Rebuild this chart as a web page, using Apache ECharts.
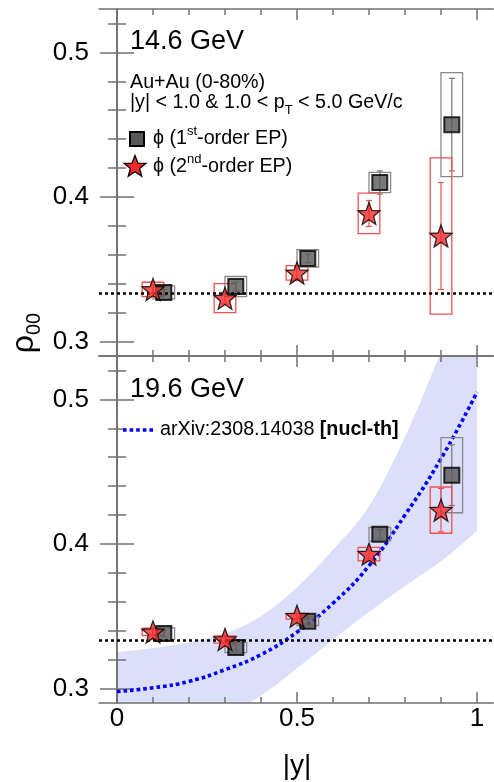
<!DOCTYPE html>
<html>
<head>
<meta charset="utf-8">
<script src="https://cdn.jsdelivr.net/npm/echarts@6/dist/echarts.min.js"></script>
<style>
html, body { margin: 0; padding: 0; background: #fff; }
#chart { width: 494px; height: 782px; }
</style>
</head>
<body>
<div id="chart"></div>
<script>
// |y| positions of the points (squares are shifted a bit to the right)
var xStar = [0.1, 0.3, 0.5, 0.7, 0.9];
var xSquare = [0.13, 0.33, 0.53, 0.73, 0.93];

// 14.6 GeV, phi (1st-order EP)
var sq146 = [0.334, 0.338, 0.3575, 0.410, 0.450];
var sq146Stat = [0.002, 0.003, 0.003, 0.008, 0.032];
var sq146Sys = [0.0045, 0.007, 0.006, 0.007, 0.036];
// 14.6 GeV, phi (2nd-order EP)
var st146 = [0.336, 0.330, 0.3475, 0.3886, 0.373];
var st146Stat = [0.003, 0.004, 0.004, 0.009, 0.037];
var st146Sys = [0.005, 0.010, 0.005, 0.014, 0.054];

// 19.6 GeV, phi (1st-order EP)
var sq196 = [0.338, 0.3284, 0.3466, 0.4068, 0.4476];
var sq196Stat = [0.002, 0.002, 0.002, 0.003, 0.021];
var sq196Sys = [0.004, 0.0035, 0.003, 0.0046, 0.026];
// 19.6 GeV, phi (2nd-order EP)
var st196 = [0.3392, 0.3339, 0.350, 0.393, 0.4234];
var st196Stat = [0.002, 0.002, 0.002, 0.003, 0.015];
var st196Sys = [0.0025, 0.0025, 0.002, 0.0047, 0.016];

// arXiv:2308.14038 model curve and its band
var curveX = [0, 0.1, 0.2, 0.3, 0.4, 0.5, 0.6, 0.7, 0.8, 0.9, 1.0];
var curveY = [0.298, 0.3005, 0.305, 0.313, 0.3235, 0.339, 0.359, 0.385, 0.42, 0.459, 0.505];
var bandX = [0, 0.1, 0.2, 0.3, 0.4, 0.5, 0.6, 0.7, 0.8, 0.9, 1.0];
var bandHi = [0.325, 0.328, 0.332, 0.338, 0.350, 0.370, 0.396, 0.426, 0.474, 0.533, 0.595];
var bandLo = [0.252, 0.261, 0.271, 0.282, 0.295, 0.314, 0.334, 0.353, 0.371, 0.388, 0.409];

var unpolarized = 1 / 3;

// ticks
var xMajor = [0, 0.5, 1];
var xMinor = [0.1, 0.2, 0.3, 0.4, 0.6, 0.7, 0.8, 0.9];
var yMajor = [0.3, 0.4, 0.5];
var yMinor = [0.32, 0.34, 0.36, 0.38, 0.42, 0.44, 0.46, 0.48, 0.52];

var FONT = 'Liberation Sans, Arial, Helvetica, sans-serif';
var FRAME = '#707070';
var BOX_HALF = 0.03;

function starPoints (cx, cy, R, rIn) {
  var pts = [];
  for (var k = 0; k < 10; k++) {
    var a = -Math.PI / 2 + k * Math.PI / 5;
    var r = k % 2 ? R * rIn : R;
    pts.push([cx + r * Math.cos(a), cy + r * Math.sin(a)]);
  }
  return pts;
}
var STAR = 'path://' + starPoints(10, 10, 10, 0.42).map(function (p, k) {
  return (k ? 'L' : 'M') + p[0].toFixed(2) + ' ' + p[1].toFixed(2);
}).join(' ') + ' Z';

// catmull-rom through screen points -> bezier path pieces
function smoothSegs (pts) {
  var d = '';
  for (var i = 0; i < pts.length - 1; i++) {
    var p0 = pts[i - 1] || pts[i], p1 = pts[i], p2 = pts[i + 1], p3 = pts[i + 2] || pts[i + 1];
    d += ' C' + (p1[0] + (p2[0] - p0[0]) / 6) + ' ' + (p1[1] + (p2[1] - p0[1]) / 6) + ' ' +
      (p2[0] - (p3[0] - p1[0]) / 6) + ' ' + (p2[1] - (p3[1] - p1[1]) / 6) + ' ' + p2[0] + ' ' + p2[1];
  }
  return d;
}

function xAxes (g) {
  var base = { type: 'value', gridIndex: g, min: -0.05, max: 1.045, splitLine: { show: false } };
  function ax (pos, major, line) {
    return Object.assign({}, base, {
      position: pos,
      axisLine: { show: line, lineStyle: { color: FRAME, width: 1.6 } },
      axisTick: { show: true, inside: true, length: major ? 11 : 6, customValues: major ? xMajor : xMinor,
        lineStyle: { color: FRAME, width: 1.5 } },
      axisLabel: (g === 1 && pos === 'bottom' && major)
        ? { show: true, customValues: xMajor, fontSize: 26, fontFamily: FONT, color: '#000', margin: 3 }
        : { show: false }
    });
  }
  return [ax('bottom', true, true), ax('bottom', false, false), ax('top', true, true), ax('top', false, false)];
}

function yAxes (g) {
  var base = { type: 'value', gridIndex: g, min: 0.29, max: 0.53, splitLine: { show: false } };
  function ax (pos, major, line) {
    return Object.assign({}, base, {
      position: pos,
      axisLine: { show: line, lineStyle: { color: FRAME, width: 1.6 } },
      axisTick: { show: true, inside: true, length: major ? 17 : 9, customValues: major ? yMajor : yMinor,
        lineStyle: { color: FRAME, width: 1.5 } },
      axisLabel: (pos === 'left' && major)
        ? { show: true, customValues: yMajor, fontSize: 26, fontFamily: FONT, color: '#000', margin: 10,
            formatter: function (v) { return v.toFixed(1) } }
        : { show: false }
    });
  }
  return [ax('left', true, true), ax('left', false, false), ax('right', true, true), ax('right', false, false)];
}

function errSeries (g, xs, ys, stat, sys, lineColor, boxColor) {
  return {
    type: 'custom',
    xAxisIndex: g * 4,
    yAxisIndex: g * 4,
    z: 3,
    silent: true,
    data: xs.map(function (x, i) { return [x, ys[i], stat[i], sys[i]] }),
    renderItem: function (params, api) {
      var x = api.value(0), y = api.value(1), st = api.value(2), sy = api.value(3);
      var c = api.coord([x, y]);
      var hi = api.coord([x, y + st]);
      var lo = api.coord([x, y - st]);
      var bl = api.coord([x - BOX_HALF, y - sy]);
      var tr = api.coord([x + BOX_HALF, y + sy]);
      return {
        type: 'group',
        children: [
          { type: 'rect', shape: { x: bl[0], y: tr[1], width: tr[0] - bl[0], height: bl[1] - tr[1] },
            style: { fill: 'none', stroke: boxColor, lineWidth: 1.3 } },
          { type: 'line', shape: { x1: c[0], y1: hi[1], x2: c[0], y2: lo[1] },
            style: { stroke: lineColor, lineWidth: 1.2 } },
          { type: 'line', shape: { x1: c[0] - 3, y1: hi[1], x2: c[0] + 3, y2: hi[1] },
            style: { stroke: lineColor, lineWidth: 1.2 } },
          { type: 'line', shape: { x1: c[0] - 3, y1: lo[1], x2: c[0] + 3, y2: lo[1] },
            style: { stroke: lineColor, lineWidth: 1.2 } }
        ]
      };
    }
  };
}

function squareSeries (g, xs, ys) {
  return {
    type: 'scatter', xAxisIndex: g * 4, yAxisIndex: g * 4, z: 4,
    symbol: 'rect', symbolSize: 15,
    itemStyle: { color: '#585858', borderColor: '#000', borderWidth: 2 },
    data: xs.map(function (x, i) { return [x, ys[i]] })
  };
}

function starSeries (g, xs, ys) {
  return {
    type: 'scatter', xAxisIndex: g * 4, yAxisIndex: g * 4, z: 5,
    symbol: STAR, symbolSize: 22,
    itemStyle: { color: '#f42a2a', borderColor: '#000', borderWidth: 1.3 },
    data: xs.map(function (x, i) { return [x, ys[i]] })
  };
}

function refLine (g) {
  return {
    type: 'line', xAxisIndex: g * 4, yAxisIndex: g * 4, z: 1, data: [],
    markLine: {
      silent: true, symbol: 'none', label: { show: false }, precision: 6,
      lineStyle: { color: '#000', type: [3, 3], width: 2.6 },
      data: [{ yAxis: unpolarized }]
    }
  };
}

var chart = echarts.init(document.getElementById('chart'));

var texts = [
  { type: 'text', x: 130, y: 42, style: { text: '14.6 GeV', fontSize: 27, fontFamily: FONT, fill: '#000', align: 'left', verticalAlign: 'middle' } },
  { type: 'text', x: 130, y: 83, style: { text: 'Au+Au (0-80%)', fontSize: 19.7, fontFamily: FONT, fill: '#000', align: 'left', verticalAlign: 'middle' } },
  { type: 'text', x: 130, y: 103, style: {
    text: '{n||y| < 1.0 & 1.0 < p}{s|T}{n| < 5.0 GeV/c}', fontFamily: FONT, fill: '#000', align: 'left', verticalAlign: 'middle',
    rich: { n: { fontSize: 19.7, lineHeight: 28, fontFamily: FONT }, s: { fontSize: 13, verticalAlign: 'bottom', fontFamily: FONT } } } },
  { type: 'rect', shape: { x: 130, y: 132, width: 14, height: 14 }, style: { fill: '#585858', stroke: '#000', lineWidth: 2 } },
  { type: 'text', x: 153, y: 139, style: {
    text: '{n|\u03d5 (1}{s|st}{n|-order EP)}', fontFamily: FONT, fill: '#000', align: 'left', verticalAlign: 'middle',
    rich: { n: { fontSize: 19.7, lineHeight: 28, fontFamily: FONT }, s: { fontSize: 13, verticalAlign: 'top', fontFamily: FONT } } } },
  { type: 'polygon', shape: { points: starPoints(135, 167, 11.5, 0.42) },
    style: { fill: '#f42a2a', stroke: '#000', lineWidth: 1.3 } },
  { type: 'text', x: 153, y: 167, style: {
    text: '{n|\u03d5 (2}{s|nd}{n|-order EP)}', fontFamily: FONT, fill: '#000', align: 'left', verticalAlign: 'middle',
    rich: { n: { fontSize: 19.7, lineHeight: 28, fontFamily: FONT }, s: { fontSize: 13, verticalAlign: 'top', fontFamily: FONT } } } },
  { type: 'text', x: 130, y: 389.5, style: { text: '19.6 GeV', fontSize: 27, fontFamily: FONT, fill: '#000', align: 'left', verticalAlign: 'middle' } },
  { type: 'line', shape: { x1: 123, y1: 430, x2: 153, y2: 430 }, style: { stroke: '#0000ff', lineWidth: 3.6, lineDash: [3.6, 3] } },
  { type: 'text', x: 160, y: 430, style: {
    text: '{n|arXiv:2308.14038 }{b|[nucl-th]}', fontFamily: FONT, fill: '#000', align: 'left', verticalAlign: 'middle',
    rich: { n: { fontSize: 19.7, fontFamily: FONT }, b: { fontSize: 19.7, fontWeight: 'bold', fontFamily: FONT } } } },
  { type: 'text', x: 297, y: 766, style: { text: '|y|', fontSize: 28, fontFamily: FONT, fill: '#000', align: 'center', verticalAlign: 'middle' } },
  { type: 'text', x: 24, y: 333, rotation: Math.PI / 2, style: {
    text: '{r|\u03c1}{s|00}', fontFamily: FONT, fill: '#000', align: 'center', verticalAlign: 'middle',
    rich: { r: { fontSize: 32, lineHeight: 40, fontFamily: FONT }, s: { fontSize: 20, verticalAlign: 'bottom', fontFamily: FONT } } } }
];
texts.forEach(function (t) { t.z = 100 });

var option = {
  animation: false,
  backgroundColor: '#fff',
  grid: [
    { left: 99, top: 9, width: 394.2, height: 347 },
    { left: 99, top: 356, width: 394.2, height: 347 }
  ],
  xAxis: xAxes(0).concat(xAxes(1)),
  yAxis: yAxes(0).concat(yAxes(1)),
  series: [
    // band of the model
    {
      type: 'custom', xAxisIndex: 4, yAxisIndex: 4, z: 0, silent: true,
      data: bandX.map(function (x, i) { return [x, bandHi[i], bandLo[i]] }),
      renderItem: function (params, api) {
        if (params.dataIndex !== 0) return null;
        var up = bandX.map(function (x, i) { return api.coord([x, bandHi[i]]) });
        var lo = bandX.map(function (x, i) { return api.coord([x, bandLo[i]]) }).reverse();
        var d = 'M' + up[0][0] + ' ' + up[0][1] + smoothSegs(up) +
          ' L' + lo[0][0] + ' ' + lo[0][1] + smoothSegs(lo) + ' Z';
        var cs = params.coordSys;
        return {
          type: 'path',
          shape: { pathData: d },
          style: { fill: '#dcdffa' },
          clipPath: { type: 'rect', shape: { x: cs.x, y: cs.y, width: cs.width, height: cs.height } }
        };
      }
    },
    refLine(0),
    refLine(1),
    {
      type: 'line', xAxisIndex: 4, yAxisIndex: 4, z: 2, smooth: true, symbol: 'none',
      lineStyle: { color: '#0000ff', width: 3.6, type: [3.6, 3] },
      data: curveX.map(function (x, i) { return [x, curveY[i]] })
    },
    errSeries(0, xSquare, sq146, sq146Stat, sq146Sys, '#777', '#888'),
    errSeries(0, xStar, st146, st146Stat, st146Sys, '#f05050', '#f05050'),
    errSeries(1, xSquare, sq196, sq196Stat, sq196Sys, '#777', '#888'),
    errSeries(1, xStar, st196, st196Stat, st196Sys, '#f05050', '#f05050'),
    squareSeries(0, xSquare, sq146),
    squareSeries(1, xSquare, sq196),
    starSeries(0, xStar, st146),
    starSeries(1, xStar, st196)
  ],
  graphic: texts
};

chart.setOption(option);
</script>
</body>
</html>
